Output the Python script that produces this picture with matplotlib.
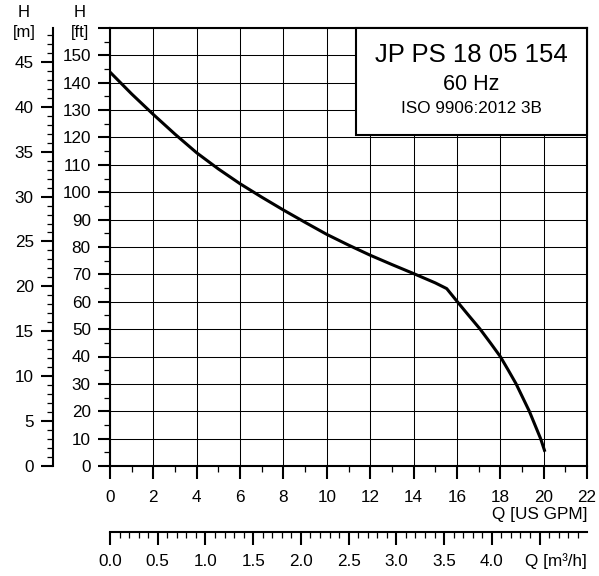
"""
Pump curve JP PS 18 05 154 (60 Hz), H-Q chart with ft/m and GPM/m3h scales.
Output: out.png (599x576)
"""

import matplotlib
matplotlib.use("Agg")
import matplotlib.pyplot as plt
from matplotlib.patches import Rectangle
from matplotlib.ticker import FuncFormatter, MultipleLocator

plt.rcParams["font.family"] = ["Liberation Sans", "DejaVu Sans"]

M_PER_FT = 0.3048
GPM_PER_M3H = 4.402868

# Q-H curve (US GPM, ft)
q_gpm = [0, 1, 2, 3, 4, 5, 6, 7, 8, 9, 10, 11, 12, 13, 14, 15, 15.53,
         16.0, 16.5, 17.07, 17.56, 18.0, 18.37, 18.73, 19.34, 19.86, 20.06]
h_ft = [143.9, 135.9, 128.4, 121.2, 114.4, 108.5, 103.1, 98.2, 93.5, 89.0,
        84.6, 80.7, 77.0, 73.6, 70.3, 66.9, 64.8,
        60.2, 55.4, 50.0, 44.8, 40.0, 35.0, 30.0, 20.0, 10.0, 5.2]

box_lines = ["JP PS 18 05 154", "60 Hz", "ISO 9906:2012 3B"]
box_sizes = [18.5, 15.5, 12.3]

FS = 12.3
W, H = 599, 576


def style_ticks(a, axis, pad):
    a.tick_params(axis=axis, which="major", direction="out", length=9, width=1.5,
                  labelsize=FS, pad=pad, color="black")
    a.tick_params(axis=axis, which="minor", direction="out", length=4.5, width=0.9,
                  color="black")


def main():
    fig = plt.figure(figsize=(W / 100, H / 100), dpi=100)
    ax = fig.add_axes([110 / W, 1 - 466 / H, 477 / W, 438 / H])

    ax.set_xlim(0, 22)
    ax.set_ylim(0, 160)
    ax.xaxis.set_major_locator(MultipleLocator(2))
    ax.xaxis.set_minor_locator(MultipleLocator(1))
    ax.yaxis.set_major_locator(MultipleLocator(10))
    ax.yaxis.set_minor_locator(MultipleLocator(5))
    ax.yaxis.set_major_formatter(FuncFormatter(lambda v, p: "" if v > 155 else f"{v:.0f}"))
    ax.xaxis.set_major_formatter(FuncFormatter(lambda v, p: "" if v > 22.5 else f"{v:.0f}"))
    ax.grid(True, which="major", color="black", lw=0.75)
    ax.set_axisbelow(True)
    style_ticks(ax, "x", 8.4)
    style_ticks(ax, "y", 4.8)
    for s in ax.spines.values():
        s.set_linewidth(1.5)

    ax.plot(q_gpm, h_ft, color="black", lw=2.2, solid_joinstyle="round",
            solid_capstyle="butt", zorder=3)

    # metre scale on the far left (blank labels past the top of the axis)
    secy = ax.secondary_yaxis(-57 / 477, functions=(lambda y: y * M_PER_FT,
                                                     lambda y: y / M_PER_FT))
    secy.yaxis.set_major_locator(MultipleLocator(5))
    secy.yaxis.set_minor_locator(MultipleLocator(1))
    secy.yaxis.set_major_formatter(FuncFormatter(lambda v, p: "" if v > 48 else f"{v:.0f}"))
    style_ticks(secy, "y", 4.8)
    secy.spines["left"].set_linewidth(1.5)

    # m3/h scale below
    secx = ax.secondary_xaxis(-66 / 438, functions=(lambda x: x / GPM_PER_M3H,
                                                     lambda x: x * GPM_PER_M3H))
    secx.xaxis.set_major_locator(MultipleLocator(0.5))
    secx.xaxis.set_minor_locator(MultipleLocator(0.1))
    secx.xaxis.set_major_formatter(FuncFormatter(lambda v, p: "" if v > 4.2 else f"{v:.1f}"))
    style_ticks(secx, "x", 7.2)
    secx.spines["bottom"].set_linewidth(1.5)

    # title box
    ax.add_patch(Rectangle((0.516, 0.756), 0.484, 0.244, transform=ax.transAxes,
                           facecolor="white", edgecolor="black", lw=1.5, zorder=4,
                           clip_on=False))
    for txt, fs, y in zip(box_lines, box_sizes, [0.9377, 0.872, 0.8158]):
        ax.text(0.758, y, txt, transform=ax.transAxes, ha="center", va="center",
                fontsize=fs, zorder=5)

    # axis captions
    for x, unit in [(24, "[m]"), (79.5, "[ft]")]:
        fig.text(x / W, 1 - 12.5 / H, "H", ha="center", va="center", fontsize=12)
        fig.text(x / W, 1 - 32.5 / H, unit, ha="center", va="center", fontsize=12)
    fig.text(587 / W, 1 - 515 / H, "Q [US GPM]", ha="right", va="center", fontsize=FS)
    fig.text(587 / W, 1 - 561.5 / H, "Q [m³/h]", ha="right", va="center", fontsize=FS)

    fig.savefig("out.png", dpi=100)
    plt.close(fig)


if __name__ == "__main__":
    main()
